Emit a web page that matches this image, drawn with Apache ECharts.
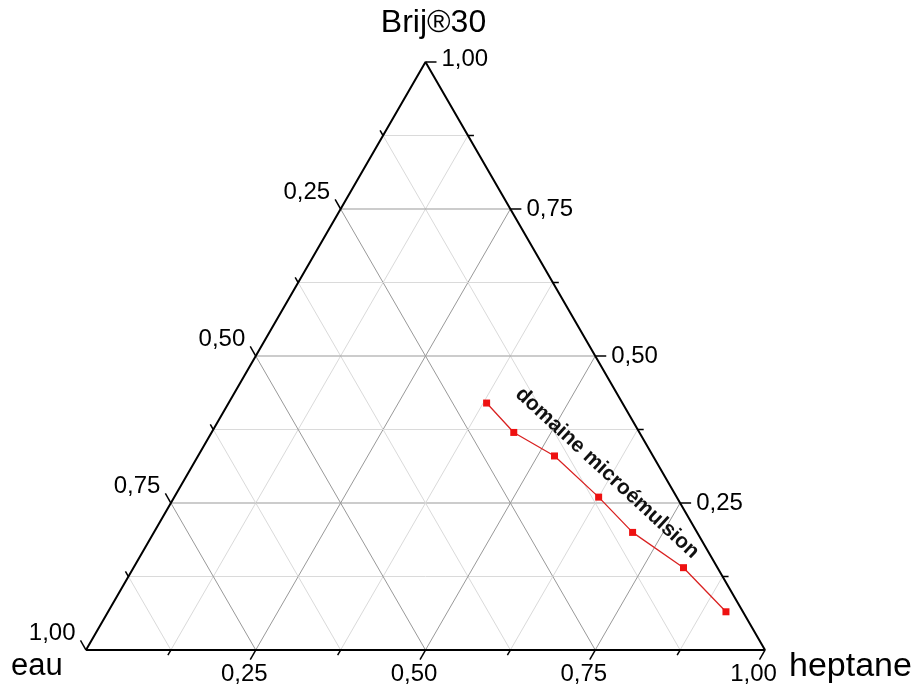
<!DOCTYPE html>
<html><head><meta charset="utf-8">
<script src="https://cdn.jsdelivr.net/npm/echarts/dist/echarts.min.js"></script>
<style>html,body{margin:0;padding:0;background:#fff}#c{width:921px;height:695px}</style>
</head><body><div id="c"></div>
<script>
// ---- data ----
const componentNames = ['eau', 'heptane', 'Brij®30'];
const gridFractions = [0.125, 0.25, 0.375, 0.5, 0.625, 0.75, 0.875];
const tickFractions = [0.125, 0.25, 0.375, 0.5, 0.625, 0.75, 0.875, 1];
const labelValues = [0.25, 0.5, 0.75, 1];
const labelTexts = ['0,25', '0,50', '0,75', '1,00'];
const brij    = [0.42, 0.37, 0.33, 0.26, 0.20, 0.14, 0.065];
const heptane = [0.38, 0.445, 0.525, 0.625, 0.705, 0.81, 0.91];
const eau     = [0.20, 0.185, 0.145, 0.115, 0.095, 0.05, 0.025];
const annotationText = 'domaine microémulsion';
const annotationAt = [0.617, 0.301]; // [heptane, brij] of label centre

// ternary (heptane, brij) -> cartesian
function toXY(h, b) { return [h + b / 2, b]; }

const FONT = 'Liberation Sans, Arial, sans-serif';

// grid lines
const gridData = [];
gridFractions.forEach(f => {
  const major = Math.abs(f * 4 - Math.round(f * 4)) < 1e-9 ? 1 : 0;
  const a1 = toXY(0, f), a2 = toXY(1 - f, f);       // brij = f
  const b1 = toXY(f, 0), b2 = toXY(f, 1 - f);       // heptane = f
  const c1 = toXY(1 - f, 0), c2 = toXY(0, 1 - f);   // eau = f
  gridData.push([a1[0], a1[1], a2[0], a2[1], major]);
  gridData.push([b1[0], b1[1], b2[0], b2[1], major]);
  gridData.push([c1[0], c1[1], c2[0], c2[1], major]);
});

// ticks: axis 0 = bottom (heptane), 1 = right (brij), 2 = left (eau)
const tickData = [];
tickFractions.forEach(f => {
  const p0 = toXY(f, 0), p1 = toXY(1 - f, f), p2 = toXY(0, 1 - f);
  tickData.push([p0[0], p0[1], 0, f]);
  tickData.push([p1[0], p1[1], 1, f]);
  tickData.push([p2[0], p2[1], 2, f]);
});
const dirs = [[-0.5, 0.866], [1, 0], [-0.5, -0.866]];

// vertex titles: eau, heptane, brij
const titleData = [
  [toXY(0, 0)[0], toXY(0, 0)[1], 0],
  [toXY(1, 0)[0], toXY(1, 0)[1], 1],
  [toXY(0, 1)[0], toXY(0, 1)[1], 2]
];
const titleStyle = [
  { dx: -75, dy: 16, align: 'left', size: 31 },
  { dx: 24, dy: 17, align: 'left', size: 34 },
  { dx: 8, dy: -39, align: 'center', size: 32 }
];

const curve = brij.map((b, i) => toXY(heptane[i], b));
const triangle = [toXY(0, 0), toXY(1, 0), toXY(0, 1), toXY(0, 0)];
const annXY = toXY(annotationAt[0], annotationAt[1]);

const chart = echarts.init(document.getElementById('c'), null, { renderer: 'canvas' });
chart.setOption({
  animation: false,
  backgroundColor: '#ffffff',
  grid: { left: 86, top: 62, width: 679, height: 588 },
  xAxis: { type: 'value', min: 0, max: 1, show: false },
  yAxis: { type: 'value', min: 0, max: 1, show: false },
  series: [
    {
      type: 'custom', z: 1, silent: true,
      data: gridData,
      encode: { x: [0, 2], y: [1, 3] },
      renderItem: (params, api) => {
        const p1 = api.coord([api.value(0), api.value(1)]);
        const p2 = api.coord([api.value(2), api.value(3)]);
        const major = api.value(4) === 1;
        return { type: 'line', shape: { x1: p1[0], y1: p1[1], x2: p2[0], y2: p2[1] },
          style: { stroke: major ? '#999999' : '#dadada', lineWidth: 1 } };
      }
    },
    {
      type: 'line', z: 3, silent: true,
      data: triangle, symbol: 'none',
      lineStyle: { color: '#000', width: 2 }
    },
    {
      type: 'custom', z: 4, silent: true,
      data: tickData,
      encode: { x: 0, y: 1 },
      renderItem: (params, api) => {
        const p = api.coord([api.value(0), api.value(1)]);
        const axis = api.value(2), f = api.value(3);
        const major = Math.abs(f * 4 - Math.round(f * 4)) < 1e-9;
        const len = major ? 11 : 6;
        const d = dirs[axis];
        const e = [p[0] + d[0] * len, p[1] + d[1] * len];
        const children = [{ type: 'line', shape: { x1: p[0], y1: p[1], x2: e[0], y2: e[1] },
          style: { stroke: '#000', lineWidth: 1.5 } }];
        const li = labelValues.findIndex(v => Math.abs(v - f) < 1e-9);
        if (li >= 0) {
          let st;
          if (axis === 0) st = { x: e[0] - 6, y: e[1] + 3, align: 'center', verticalAlign: 'top' };
          else if (axis === 1) st = { x: e[0] + 5, y: e[1] - (f === 1 ? 3 : 0), align: 'left', verticalAlign: 'middle' };
          else st = { x: e[0] - 5, y: e[1] + 5, align: 'right', verticalAlign: 'bottom' };
          children.push({ type: 'text', style: { x: st.x, y: st.y, text: labelTexts[li],
            align: st.align, verticalAlign: st.verticalAlign, fill: '#000',
            font: '24px ' + FONT } });
        }
        return { type: 'group', children };
      }
    },
    {
      type: 'custom', z: 5, silent: true,
      data: titleData,
      encode: { x: 0, y: 1 },
      renderItem: (params, api) => {
        const p = api.coord([api.value(0), api.value(1)]);
        const s = titleStyle[api.value(2)];
        return { type: 'text', style: { x: p[0] + s.dx, y: p[1] + s.dy,
          text: componentNames[api.value(2)], align: s.align, verticalAlign: 'middle',
          fill: '#000', font: s.size + 'px ' + FONT } };
      }
    },
    {
      type: 'line', z: 6, silent: true,
      data: curve,
      symbol: 'rect', symbolSize: 7,
      itemStyle: { color: '#ee1111' },
      lineStyle: { color: '#d92222', width: 1.3 }
    },
    {
      type: 'custom', z: 7, silent: true,
      data: [[annXY[0], annXY[1]]],
      encode: { x: 0, y: 1 },
      renderItem: (params, api) => {
        const p = api.coord([api.value(0), api.value(1)]);
        return { type: 'text', x: p[0], y: p[1], rotation: -0.745,
          style: { x: 0, y: 0, text: annotationText, align: 'center', verticalAlign: 'middle',
            fill: '#111', font: 'bold 21px ' + FONT } };
      }
    }
  ]
});
</script>
</body></html>
